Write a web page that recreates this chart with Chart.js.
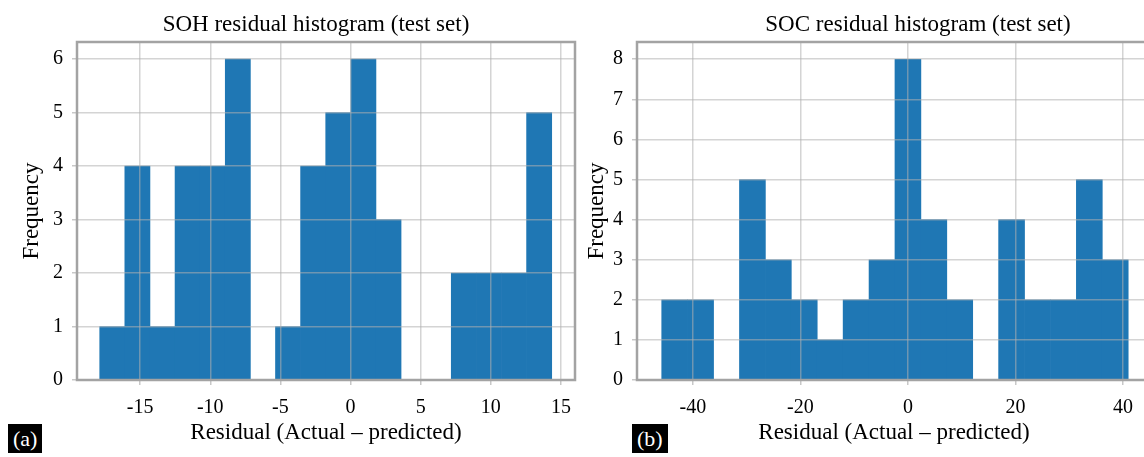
<!DOCTYPE html>
<html>
<head>
<meta charset="utf-8">
<script src="https://cdn.jsdelivr.net/npm/chart.js@4.4.1/dist/chart.umd.min.js"></script>
<style>
  html, body { margin: 0; padding: 0; background: #fff; overflow: hidden; }
  body { width: 1144px; height: 457px; position: relative; }
  .panel { position: absolute; top: 0; height: 457px; }
  #panel-a { left: 0; width: 632px; }
  #panel-b { left: 580px; width: 676px; }
  .tag {
    position: absolute; top: 424px; height: 29px; padding: 0 5px;
    background: #000; color: #fff;
    font: 22px "Liberation Serif", serif; line-height: 29px;
  }
</style>
</head>
<body>
<div class="panel" id="panel-a"><canvas id="chart-soh"></canvas></div>
<div class="panel" id="panel-b"><canvas id="chart-soc"></canvas></div>
<div class="tag" style="left:8px">(a)</div>
<div class="tag" style="left:632px">(b)</div>
<script>
// Histogramas de resíduos (SOH / SOC).
var SOH_COUNTS = [1, 4, 1, 4, 4, 6, 0, 1, 4, 5, 6, 3, 0, 0, 2, 2, 2, 5];
var SOH_BIN_START = -17.88;
var SOH_BIN_WIDTH = 1.79;
var SOH_X_TICKS = [-15, -10, -5, 0, 5, 10, 15];
var SOH_Y_TICKS = [0, 1, 2, 3, 4, 5, 6];

var SOC_COUNTS = [2, 2, 0, 5, 3, 2, 1, 2, 3, 8, 4, 2, 0, 4, 2, 2, 5, 3];
var SOC_BIN_START = -45.8;
var SOC_BIN_WIDTH = 4.82;
var SOC_X_TICKS = [-40, -20, 0, 20, 40];
var SOC_Y_TICKS = [0, 1, 2, 3, 4, 5, 6, 7, 8];

(function () {
  "use strict";

  var BLUE = "#1f77b4";
  var GRID = "rgba(176,176,176,0.55)";
  var SPINE = "#a3a3a3";
  var SERIF = "'Liberation Serif', 'Times New Roman', serif";

  // moldura cinza em volta da área do gráfico (spines do matplotlib)
  var frame = {
    id: "frame",
    afterDraw: function (chart) {
      var a = chart.chartArea;
      var ctx = chart.ctx;
      ctx.save();
      ctx.strokeStyle = SPINE;
      ctx.lineWidth = 2.5;
      ctx.strokeRect(a.left, a.top, a.right - a.left, a.bottom - a.top);
      ctx.restore();
    },
  };

  // título do painel, centrado num x próprio (a figura original não o centra no eixo)
  var panelTitle = {
    id: "panelTitle",
    afterDraw: function (chart, args, opts) {
      var ctx = chart.ctx;
      ctx.save();
      ctx.fillStyle = "#000";
      ctx.font = "23px " + SERIF;
      ctx.textAlign = "center";
      ctx.textBaseline = "middle";
      ctx.fillText(opts.text, opts.x, opts.y);
      ctx.restore();
    },
  };

  function fixedTicks(values) {
    return function (axis) {
      axis.ticks = values.map(function (v) {
        return { value: v };
      });
    };
  }

  function histogram(canvasId, o) {
    var points = o.counts.map(function (c, i) {
      return { x: o.binStart + (i + 0.5) * o.binWidth, y: c };
    });
    new Chart(document.getElementById(canvasId), {
      type: "bar",
      data: {
        datasets: [
          {
            data: points,
            backgroundColor: BLUE,
            borderWidth: 0,
            barPercentage: 1,
            categoryPercentage: 1,
          },
        ],
      },
      options: {
        responsive: true,
        maintainAspectRatio: false,
        animation: false,
        layout: { padding: { left: 0, right: o.padRight, top: 42, bottom: 0 } },
        scales: {
          x: {
            type: "linear",
            min: o.xMin,
            max: o.xMax,
            offset: false,
            afterBuildTicks: fixedTicks(o.xTicks),
            afterFit: function (axis) {
              axis.height = 77;
            },
            grid: { color: GRID, lineWidth: 1.5, z: 1, offset: false, tickLength: 5, tickColor: "#c8c8c8" },
            border: { display: false },
            ticks: { color: "#000", font: { family: SERIF, size: 20 }, padding: 11, maxRotation: 0, autoSkip: false },
            title: {
              display: true,
              text: "Residual (Actual – predicted)",
              color: "#000",
              font: { family: SERIF, size: 23 },
              padding: { top: 0, bottom: 10 },
            },
          },
          y: {
            min: 0,
            max: o.yMax,
            afterBuildTicks: fixedTicks(o.yTicks),
            afterFit: function (axis) {
              axis.width = o.yWidth;
            },
            grid: { color: GRID, lineWidth: 1.5, z: 1, tickLength: 5, tickColor: "#c8c8c8" },
            border: { display: false },
            ticks: { color: "#000", font: { family: SERIF, size: 20 }, padding: 9 },
            title: {
              display: true,
              text: "Frequency",
              color: "#000",
              font: { family: SERIF, size: 23 },
              padding: { top: o.yTitlePad, bottom: 0 },
            },
          },
        },
        plugins: {
          legend: { display: false },
          tooltip: { enabled: false },
          panelTitle: { text: o.title, x: o.titleX, y: 25 },
        },
      },
      plugins: [frame, panelTitle],
    });
  }

  histogram("chart-soh", {
    title: "SOH residual histogram (test set)",
    counts: SOH_COUNTS,
    binStart: SOH_BIN_START,
    binWidth: SOH_BIN_WIDTH,
    xTicks: SOH_X_TICKS,
    yTicks: SOH_Y_TICKS,
    xMin: -19.5,
    xMax: 16.0,
    yMax: 6.32,
    yWidth: 77,
    yTitlePad: 18,
    padRight: 57,
    titleX: 316,
  });

  histogram("chart-soc", {
    title: "SOC residual histogram (test set)",
    counts: SOC_COUNTS,
    binStart: SOC_BIN_START,
    binWidth: SOC_BIN_WIDTH,
    xTicks: SOC_X_TICKS,
    yTicks: SOC_Y_TICKS,
    xMin: -50.4,
    xMax: 45.2,
    yMax: 8.43,
    yWidth: 57,
    yTitlePad: 3,
    padRight: 105,
    titleX: 338,
  });
})();
</script>
</body>
</html>
